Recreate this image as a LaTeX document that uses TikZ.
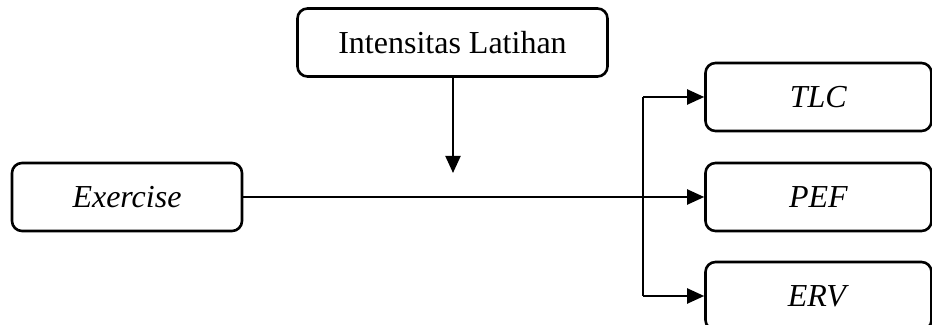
\documentclass[tikz,border=0pt]{standalone}
\usepackage{fontspec}
\setmainfont{Liberation Serif}
\usetikzlibrary{arrows.meta,positioning}
\tikzstyle{variabel} = [rectangle, rounded corners=5pt, minimum width=113pt, minimum height=34pt, text centered, draw=black, line width=1.3pt, font=\fontsize{16}{19}\selectfont]
\tikzstyle{panah} = [line width=1pt,-{Triangle[length=8.5pt,width=7.5pt]}]

\begin{document}
\begin{tikzpicture}[x=0.5pt, y=-0.5pt]
\useasboundingbox (0,0) rectangle (932,325);

\node (intensitas) [variabel, minimum width=155pt] at (452.5,42.5) {Intensitas Latihan};
\node (exercise) [variabel, minimum width=115pt] at (127,197) {\textit{Exercise}};

\node (tlc) [variabel] at (818.5,97) {\textit{TLC}};
\node (pef) [variabel] at (818.5,197) {\textit{PEF}};
\node (erv) [variabel] at (818.5,296) {\textit{ERV}};

% moderasi
\coordinate (moderasi) at (453,173);
\draw[panah] (intensitas.south -| moderasi) -- (moderasi);

% cabang ke tiga variabel terikat
\coordinate (cabangatas) at (643,97);
\coordinate (cabangbawah) at (643,296);
\draw[panah] (exercise) -- (pef);
\draw[line width=1pt] (cabangatas) -- (cabangbawah);
\draw[panah] (cabangatas) -- (tlc);
\draw[panah] (cabangbawah) -- (erv);
\end{tikzpicture}
\end{document}
